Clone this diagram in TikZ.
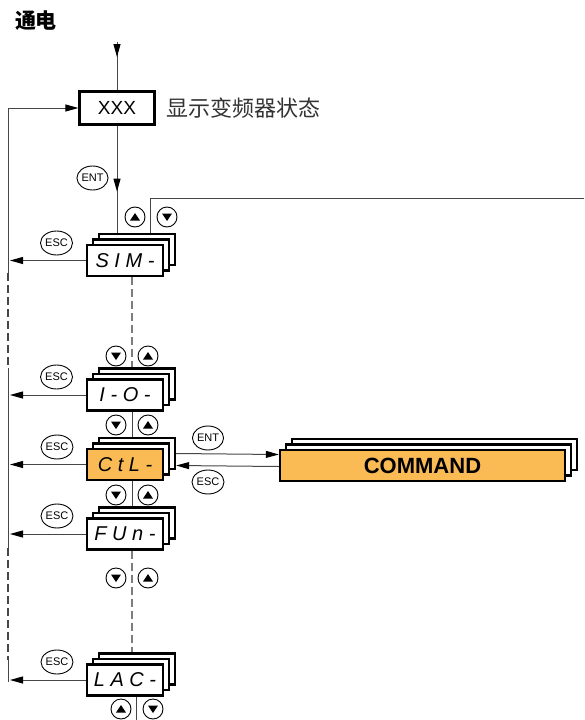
\documentclass[tikz,border=0pt]{standalone}
\usepackage{fontspec}
\setmainfont{Liberation Sans}
\newfontfamily\cjk{Noto Sans CJK SC}
\usetikzlibrary{arrows.meta, positioning, shapes.geometric, shadows}
\definecolor{ctlorange}{RGB}{251,187,84}
\definecolor{wiregray}{RGB}{70,70,70}
\definecolor{dashgray}{RGB}{125,125,125}

\begin{document}
\begin{tikzpicture}[x=1pt, y=-1pt,
  menu/.style={rectangle, draw, line width=2.4pt, fill=white, minimum width=76pt, minimum height=31pt,
               inner sep=0pt, font=\fontsize{20}{20}\selectfont\itshape},
  stack/.style={menu,
                copy shadow={shadow xshift=12pt, shadow yshift=11pt, line width=2.4pt, fill=white},
                copy shadow={shadow xshift=6pt, shadow yshift=5.5pt, line width=2.4pt, fill=white}},
  btn/.style={ellipse, draw, line width=0.9pt, minimum width=27pt, minimum height=24pt,
              inner sep=0pt, font=\fontsize{11}{11}\selectfont},
  key/.style={circle, draw, line width=0.9pt, minimum size=20pt, inner sep=0pt},
  keyup/.style={key, path picture={\fill ([shift={(-5pt,-3.5pt)}]path picture bounding box.center)
                -- ++(10pt,0pt) -- ([yshift=4pt]path picture bounding box.center) -- cycle;}},
  keydown/.style={key, path picture={\fill ([shift={(-5pt,3.5pt)}]path picture bounding box.center)
                -- ++(10pt,0pt) -- ([yshift=-4pt]path picture bounding box.center) -- cycle;}},
  wire/.style={wiregray, line width=1pt},
  dashwire/.style={dashgray, line width=1.2pt, dash pattern=on 8pt off 4pt},
  arrow/.style={-{Triangle[length=13pt, width=7pt, color=black]}, wiregray, line width=1pt}
]
\useasboundingbox (0,0) rectangle (584,720);

% titles
\node[font=\cjk\bfseries\fontsize{21}{21}\selectfont] (power) at (36,21) {通电};
\node[rectangle, draw, line width=2.2pt, minimum width=75pt, minimum height=33pt,
      font=\fontsize{19}{19}\selectfont] (xxx) at (117,108) {XXX};
\node[right=11pt of xxx, inner sep=0pt, black!80, font=\cjk\fontsize{22}{22}\selectfont] (state) {显示变频器状态};

% menus
\node[stack] (sim) at (125,260.5) {S I M -};
\node[stack] (io)  at (125,395)   {I - O -};
\node[stack, fill=ctlorange] (ctl) at (125,464.5) {C t L -};
\node[stack] (fun) at (125,534)   {F U n -};
\node[stack] (lac) at (125,680)   {L A C -};
\node[stack, fill=ctlorange, minimum width=285pt, font=\fontsize{22}{22}\selectfont\bfseries] (cmd) at (422.5,465.5) {COMMAND};

% keys
\node[keyup]   (simup) at (135,217) {};
\node[keydown] (simdn) at (167,217) {};
\node[keydown] (iodn)  at (116,356) {};
\node[keyup]   (ioup)  at (148,356) {};
\node[keydown] (ctldn) at (116,425) {};
\node[keyup]   (ctlup) at (148,425) {};
\node[keydown] (fundn) at (116,495) {};
\node[keyup]   (funup) at (148,495) {};
\node[keydown] (lacdn) at (116,578) {};
\node[keyup]   (lacup) at (148,578) {};
\node[keyup]   (botup) at (121,709) {};
\node[keydown] (botdn) at (153,709) {};

% buttons
\node[btn] (entpwr) at (92.5,178) {ENT};
\node[btn] (escsim) at (56.5,243) {ESC};
\node[btn] (escio)  at (56.5,377) {ESC};
\node[btn] (escctl) at (57,447)   {ESC};
\node[btn] (escfun) at (57,516)   {ESC};
\node[btn] (esclac) at (57,662)   {ESC};
\node[btn] (entcmd) at (208,438)  {ENT};
\node[btn] (esccmd) at (208,482)  {ESC};

% power on and entry
\coordinate (pwr) at (117,42);
\draw[wire] (pwr) -- (xxx.north);
\draw[arrow] (pwr) -- ++(0,15);
\draw[wire] (xxx.south) -- ([xshift=-8pt, yshift=11pt]sim.north);
\draw[arrow] (xxx.south) -- ++(0,66);
\coordinate (edge) at (584,198);
\draw[wire, line width=0.9pt] ([xshift=25pt, yshift=11pt]sim.north) |- (edge);

% left return rail
\coordinate (rail) at (8,108);
\coordinate (tip) at (10,0);
\draw[arrow] (rail) -- (xxx.west);
\draw[wire] (rail) -- (8,273) coordinate (r1);
\draw[dashwire, wiregray] (r1) -- (8,368) coordinate (r2);
\draw[wire] (r2) -- (8,548) coordinate (r3);
\draw[dashwire, wiregray] (r3) -- (8,660) coordinate (r4);
\draw[wire] (r4) -- (8,682);
\foreach \m in {sim, io, ctl, fun, lac}
  \draw[arrow] (\m.west) -- (\m.west -| tip);

% menu chain
\draw[dashwire] ([xshift=7pt]sim.south) -- ([xshift=7pt, yshift=11pt]io.north);
\draw[wire] ([xshift=7pt]io.south) -- ([xshift=7pt, yshift=11pt]ctl.north);
\draw[wire] ([xshift=7pt]ctl.south) -- ([xshift=7pt, yshift=11pt]fun.north);
\draw[dashwire] ([xshift=7pt]fun.south) -- ([xshift=7pt, yshift=11pt]lac.north);
\coordinate (bottom) at (136,720);
\draw[wire] (lac.south -| bottom) -- (bottom);

% submenu
\draw[arrow] ([xshift=12pt, yshift=11pt]ctl.east) -- ([yshift=11pt]cmd.west);
\draw[arrow] ([yshift=-1pt]cmd.west) -- ([xshift=12pt, yshift=-1pt]ctl.east);
\end{tikzpicture}
\end{document}
